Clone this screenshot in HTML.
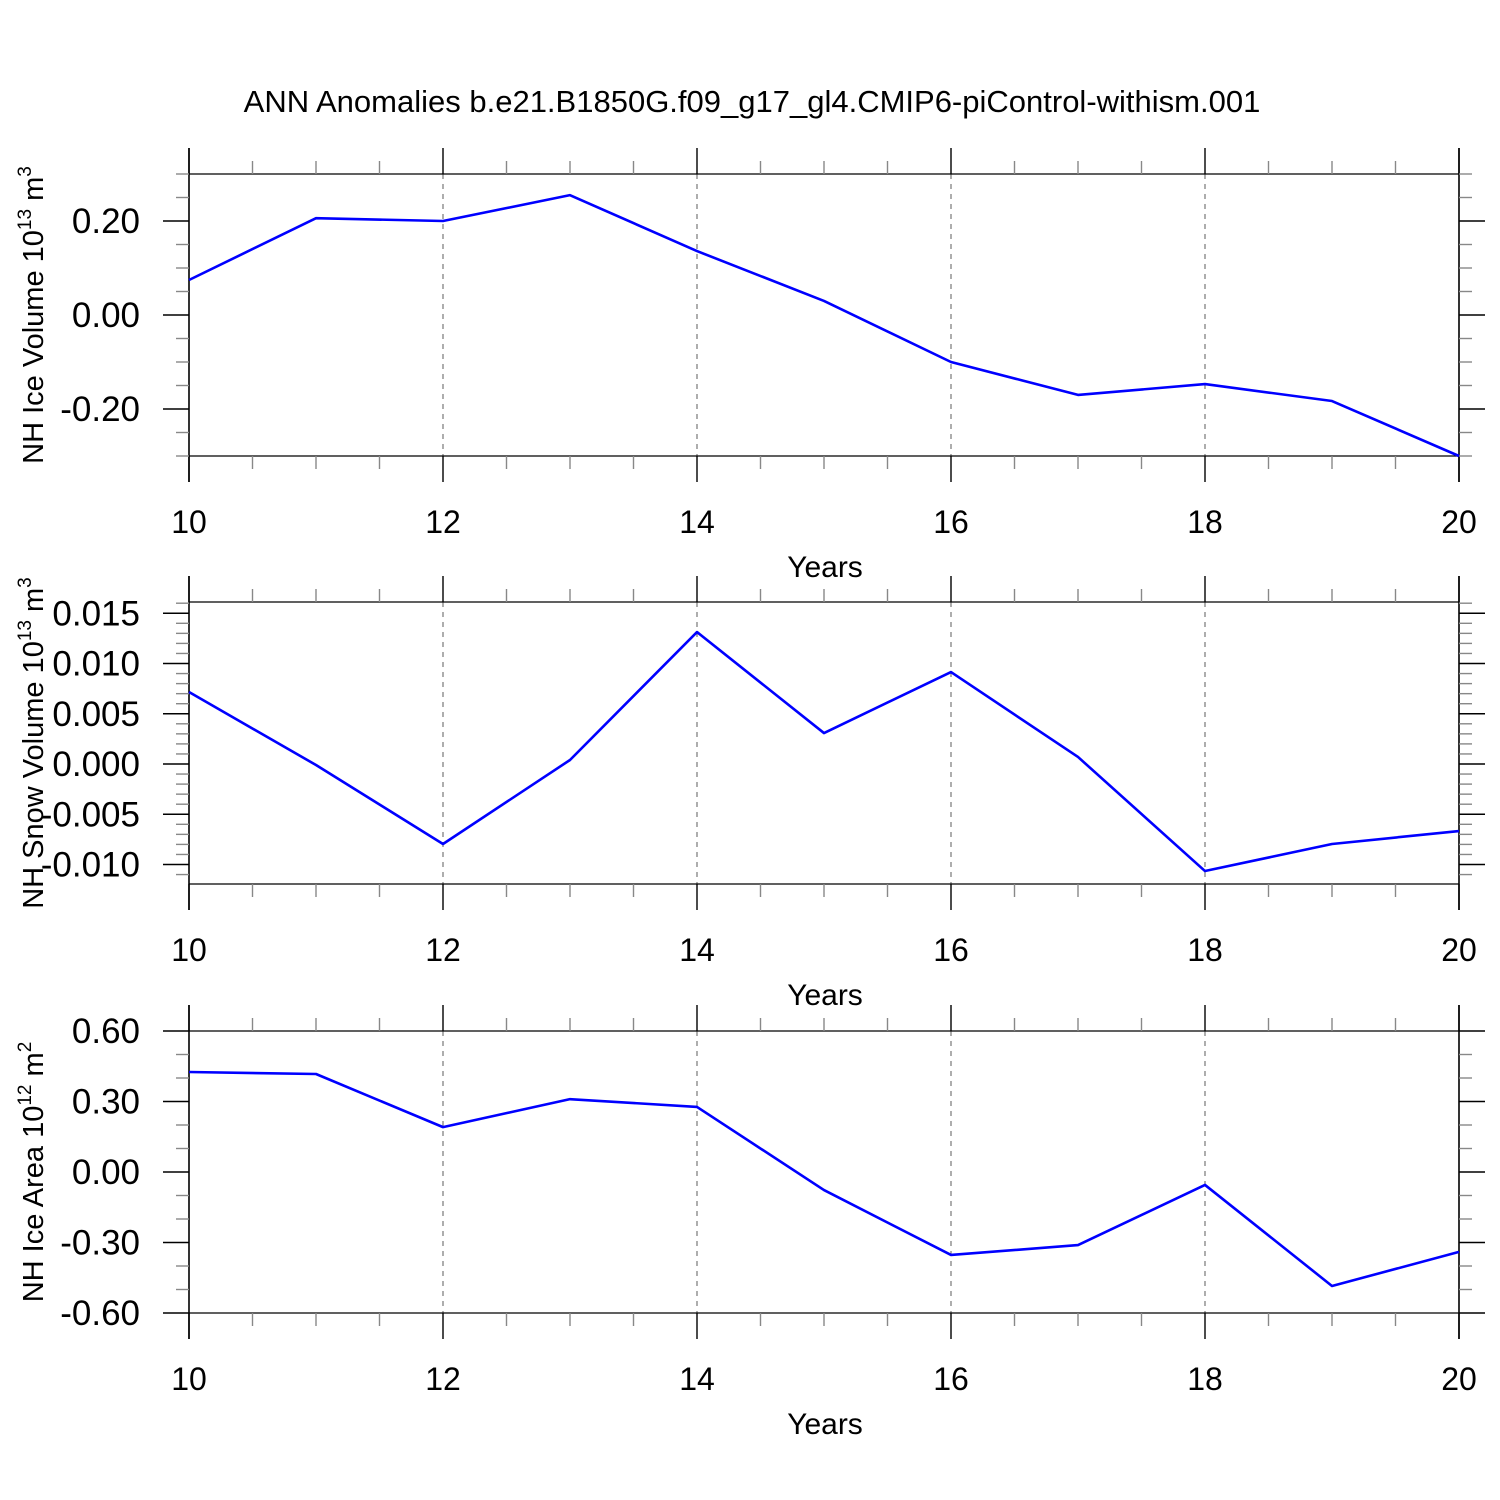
<!DOCTYPE html>
<html><head><meta charset="utf-8"><style>
html,body{margin:0;padding:0;background:#fff}
svg{display:block;font-family:"Liberation Sans",sans-serif}
</style></head><body>
<svg id="c" width="1500" height="1500" viewBox="0 0 1500 1500">
<text x="752" y="112" font-size="31" text-anchor="middle">ANN Anomalies b.e21.B1850G.f09_g17_gl4.CMIP6-piControl-withism.001</text>
</svg>
<script>
const years = [10,11,12,13,14,15,16,17,18,19,20];
const iceVolume = [0.0745,0.206,0.2,0.255,0.136,0.03,-0.1,-0.17,-0.147,-0.183,-0.3];
const snowVolume = [0.00716,-0.0001,-0.00796,0.0004,0.01313,0.00308,0.00915,0.0007,-0.01065,-0.00796,-0.00667];
const iceArea = [0.4255,0.417,0.191,0.31,0.277,-0.077,-0.353,-0.311,-0.055,-0.485,-0.34];
const xTicks = [10,12,14,16,18,20];
const iceVolTicks = ["0.20","0.00","-0.20"];
const snowTicks = ["0.015","0.010","0.005","0.000","-0.005","-0.010"];
const areaTicks = ["0.60","0.30","0.00","-0.30","-0.60"];

const NS="http://www.w3.org/2000/svg";
const svg=document.getElementById('c');
function mk(tag,attrs,parent){const e=document.createElementNS(NS,tag);for(const k in attrs)e.setAttribute(k,attrs[k]);(parent||svg).appendChild(e);return e;}

const X0=189,X1=1459;
function xs(v){return X0+(v-10)/(20-10)*(X1-X0);}

const panels=[
 {top:174,bot:456,ymin:-0.3,ymax:0.3,minor:0.05,data:iceVolume,ticks:iceVolTicks,name:'ice-volume',title:'NH Ice Volume 10',sup:'13',unit:' m',usup:'3'},
 {top:602,bot:884,ymin:-0.01194,ymax:0.01612,minor:0.001,data:snowVolume,ticks:snowTicks,name:'snow-volume',title:'NH Snow Volume 10',sup:'13',unit:' m',usup:'3'},
 {top:1031,bot:1313,ymin:-0.6,ymax:0.6,minor:0.1,data:iceArea,ticks:areaTicks,name:'ice-area',title:'NH Ice Area 10',sup:'12',unit:' m',usup:'2'}
];

panels.forEach(p=>{
 const g=mk('g',{});
 
 
 const ys=v=>p.bot-(v-p.ymin)/(p.ymax-p.ymin)*(p.bot-p.top);
 xTicks.forEach(t=>{ if(t>10&&t<20){const l=mk('line',{x1:xs(t),x2:xs(t),y1:p.top,y2:p.bot,stroke:'#777','stroke-width':1.2,'stroke-dasharray':'5,5'},g);
  
  }});
 [p.top,p.bot].forEach(y=>{const l=mk('line',{x1:X0,x2:X1,y1:y,y2:y,stroke:'#000','stroke-width':1.3},g);
  
  });
 [X0,X1].forEach(x=>{const l=mk('line',{x1:x,x2:x,y1:p.top-26,y2:p.bot+26,stroke:'#000','stroke-width':1.6},g);
  
  });
 for(let t=10;t<=20;t+=0.5){const major=(Math.abs(t%2)<1e-9);const len=major?26:13;
  [[p.top,-1],[p.bot,1]].forEach(([y,d])=>{const l=mk('line',{x1:xs(t),x2:xs(t),y1:y,y2:y+d*len,stroke:major?'#000':'#888','stroke-width':1.4},g);
   
   });}
 xTicks.forEach(t=>{const tx=mk('text',{x:xs(t),y:p.bot+77,'font-size':32,'text-anchor':'middle'},g);tx.textContent=t;
  
  });
 const xt=mk('text',{x:825,y:p.bot+121,'font-size':30,'text-anchor':'middle'},g);xt.textContent='Years';
 
 
 const start=Math.ceil(p.ymin/p.minor-1e-6);
 const majorVals=p.ticks.map(Number);
 for(let i=start;i*p.minor<=p.ymax+1e-9;i++){const v=i*p.minor;const major=majorVals.some(m=>Math.abs(m-v)<p.minor*0.01);const len=major?26:13;
  [[X0,-1],[X1,1]].forEach(([x,d])=>{const l=mk('line',{x1:x,x2:x+d*len,y1:ys(v),y2:ys(v),stroke:major?'#000':'#888','stroke-width':1.4},g);
   
   });}
 p.ticks.forEach(t=>{const tx=mk('text',{x:140,y:ys(Number(t))+12,'font-size':35,'text-anchor':'end'},g);tx.textContent=t;
  
  });
 const cy=(p.top+p.bot)/2;
 const yt=mk('text',{x:0,y:0,'font-size':29,'text-anchor':'middle',transform:`translate(43,${cy}) rotate(-90)`},g);
 
 
 yt.appendChild(document.createTextNode(p.title));
 const s1=mk('tspan',{dy:-12,'font-size':19},yt);s1.textContent=p.sup;
 const s2=mk('tspan',{dy:12},yt);s2.textContent=p.unit;
 const s3=mk('tspan',{dy:-12,'font-size':19},yt);s3.textContent=p.usup;
 const pts=years.map((yr,i)=>xs(yr)+','+ys(p.data[i])).join(' ');
 const pl=mk('polyline',{points:pts,fill:'none',stroke:'#0000ff','stroke-width':2.6,'stroke-linejoin':'round'},g);
 
 
});
</script>
</body></html>
